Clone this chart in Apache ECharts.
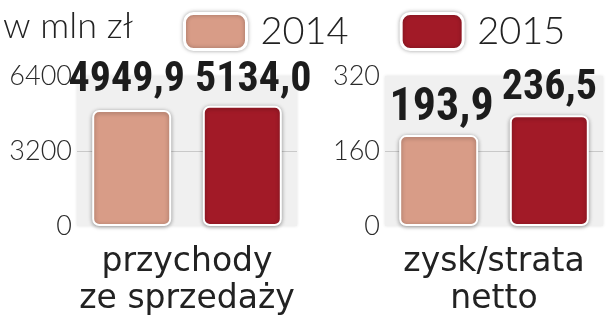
<!DOCTYPE html>
<html>
<head>
<meta charset="utf-8">
<script src="https://cdn.jsdelivr.net/npm/echarts@6/dist/echarts.min.js"></script>
<style>html,body{margin:0;padding:0;background:#fff}#c{width:606px;height:319px}</style>
</head>
<body>
<div id="c"></div>
<script>
const unitLabel = 'w mln zł';
const years = ['2014', '2015'];
const salesCategory = ['przychody\nze sprzedaży'];
const profitCategory = ['zysk/strata\nnetto'];
const sales2014 = [4949.9];
const sales2015 = [5134.0];
const profit2014 = [193.9];
const profit2015 = [236.5];
const salesTicks = [0, 3200, 6400];
const profitTicks = [0, 160, 320];

const colors = ['#d89c87', '#a21a27'];
const valFont = '"Liberation Sans Narrow","Roboto Condensed","DejaVu Sans Condensed",sans-serif';
const lightFont = 'Lato, Roboto, "Open Sans", sans-serif';

function fmt(v){ return v.toFixed(1).replace('.', ','); }

function items(arr, labelExtras){
  return arr.map((v, i) => Object.assign({ value: v }, labelExtras && labelExtras[i] ? { label: labelExtras[i] } : {}));
}

function barSeries(name, idx, data, extras){
  return {
    name: name, type: 'bar', xAxisIndex: idx, yAxisIndex: idx,
    barWidth: 79, barGap: '40%',
    data: items(data, extras),
    itemStyle: { color: colors[years.indexOf(name)], borderColor: '#fff', borderWidth: 2, borderRadius: 6,
      shadowBlur: 4, shadowColor: 'rgba(0,0,0,0.35)', shadowOffsetY: 1 },
    label: { show: true, position: 'top', distance: 6, formatter: p => fmt(p.value),
      fontFamily: valFont, fontWeight: 'bold', fontSize: 42, color: '#1c1c1c' }
  };
}

function yAxis(idx, ticks){
  return {
    type: 'value', gridIndex: idx, min: ticks[0], max: ticks[ticks.length - 1], interval: ticks[1] - ticks[0],
    axisLine: { show: false }, axisTick: { show: false },
    axisLabel: { margin: 5, fontFamily: lightFont, fontWeight: 300, fontSize: 27, color: '#2a2a2a', padding: [0, 0, 8, 0],
      formatter: v => String(v) },
    splitLine: { show: true, lineStyle: { color: ['transparent', '#c9c9c9', 'transparent'], width: 1 } }
  };
}

function xAxis(idx, cats){
  return {
    type: 'category', gridIndex: idx, data: cats,
    axisLine: { show: false }, axisTick: { show: false },
    axisLabel: { interval: 0, margin: 18, fontFamily: '"DejaVu Sans", sans-serif', fontSize: 33, lineHeight: 37, color: '#222' }
  };
}

const gridStyle = { show: true, backgroundColor: '#f0f0f0', borderWidth: 0, shadowBlur: 3, shadowColor: 'rgba(0,0,0,0.12)' };

const chart = echarts.init(document.getElementById('c'), null, { renderer: 'canvas' });
chart.setOption({
  animation: false,
  title: { text: unitLabel, left: -2, top: 3,
    textStyle: { fontFamily: lightFont, fontWeight: 300, fontSize: 36, color: '#222' } },
  legend: {
    data: years, left: 178, top: 7, itemWidth: 62, itemHeight: 36, itemGap: 51,
    icon: 'roundRect',
    itemStyle: { borderColor: '#fff', borderWidth: 3, shadowBlur: 4, shadowColor: 'rgba(0,0,0,0.3)' },
    textStyle: { fontFamily: lightFont, fontWeight: 300, fontSize: 38, color: '#222', padding: [0, 0, 0, 9] }
  },
  grid: [
    Object.assign({ left: 77, width: 220, top: 76, height: 150 }, gridStyle),
    Object.assign({ left: 385, width: 218, top: 76, height: 150 }, gridStyle)
  ],
  xAxis: [xAxis(0, salesCategory), xAxis(1, profitCategory)],
  yAxis: [yAxis(0, salesTicks), yAxis(1, profitTicks)],
  series: [
    barSeries('2014', 0, sales2014, [{ offset: [-5, -2] }]),
    barSeries('2015', 0, sales2015, [{ offset: [11, 2] }]),
    barSeries('2014', 1, profit2014, [{ offset: [3, 2], fontSize: 46 }]),
    barSeries('2015', 1, profit2015, null)
  ]
});
</script>
</body>
</html>
